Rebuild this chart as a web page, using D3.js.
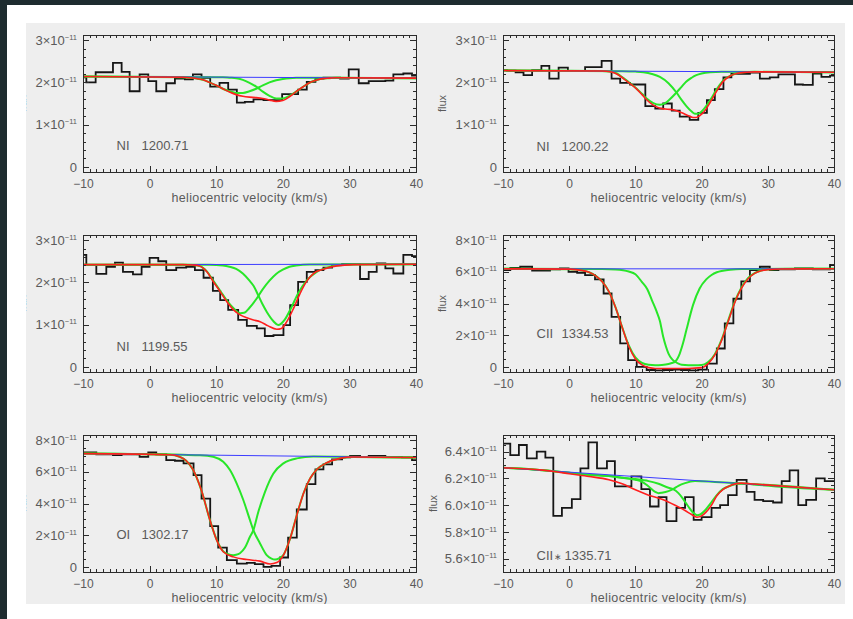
<!DOCTYPE html>
<html>
<head>
<meta charset="utf-8">
<script src="https://cdn.jsdelivr.net/npm/d3@7"></script>
<style>
  html, body { margin: 0; padding: 0; background: #ffffff; }
  svg { display: block; }
</style>
</head>
<body>
<svg id="chart" width="853" height="619"></svg>
<script>
// ---------------------------------------------------------------------------
// Interstellar absorption lines: observed flux (histogram), continuum (blue),
// the two velocity components (green) and the combined fit (red).
// Velocities in km/s (heliocentric), flux in units of 1e-11.
// ---------------------------------------------------------------------------

const velocityTicks = [-10, 0, 10, 20, 30, 40];
const lineIons = ["NI", "NI", "NI", "CII", "OI", "CII\u2217"];
const lineWavelengths = ["1200.71", "1200.22", "1199.55", "1334.53", "1302.17", "1335.71"];
const fluxTicksN = [0, 1, 2, 3];
const fluxTicksC = [0, 2, 4, 6, 8];
const fluxTicksCstar = [5.6, 5.8, 6.0, 6.2, 6.4];

// NI 1200.71
const n120071Edges = [-10.5, -9.5, -8.1, -6.8, -5.5, -4.2, -3.0, -1.5, -0.2, 1.0, 2.5, 3.8, 5.3, 6.5, 7.8, 9.1, 10.5, 11.8, 13.1, 14.3, 15.6, 17.1, 18.6, 19.9, 21.1, 22.3, 23.6, 24.9, 26.1, 27.4, 28.6, 29.9, 31.4, 32.9, 34.1, 35.4, 36.6, 38.1, 39.4, 40.7];
const n120071Flux = [2.12, 2.00, 2.24, 2.24, 2.46, 2.25, 1.79, 2.19, 2.03, 1.79, 1.98, 2.09, 2.07, 2.19, 2.11, 1.90, 1.99, 1.83, 1.52, 1.54, 1.60, 1.58, 1.58, 1.72, 1.72, 1.83, 2.01, 2.09, 2.11, 2.11, 2.09, 2.31, 1.98, 2.03, 2.03, 2.04, 2.19, 2.21, 2.16];
const n120071Cont = [[-10, 2.14], [40, 2.10]];
const n120071Comp1 = [[-10, 2.14], [5, 2.12], [6, 2.11], [7, 2.09], [8, 2.06], [9, 2.00], [10, 1.93], [11, 1.85], [12, 1.79], [13, 1.75], [14, 1.75], [15, 1.79], [16, 1.85], [17, 1.93], [18, 2.00], [19, 2.05], [20, 2.08], [21, 2.10], [22, 2.11], [24, 2.11], [40, 2.10]];
const n120071Comp2 = [[-10, 2.14], [10, 2.12], [11, 2.12], [12, 2.11], [13, 2.10], [14, 2.06], [15, 1.99], [16, 1.90], [17, 1.78], [18, 1.68], [19, 1.62], [20, 1.62], [21, 1.68], [22, 1.78], [23, 1.89], [24, 1.99], [25, 2.05], [26, 2.09], [27, 2.10], [28, 2.11], [40, 2.10]];
const n120071Total = [[-10, 2.14], [5, 2.12], [6, 2.11], [7, 2.09], [8, 2.06], [9, 2.00], [10, 1.93], [11, 1.85], [12, 1.77], [13, 1.71], [14, 1.67], [15, 1.65], [16, 1.64], [17, 1.62], [18, 1.58], [19, 1.55], [20, 1.57], [21, 1.66], [22, 1.78], [23, 1.89], [24, 1.99], [25, 2.05], [26, 2.09], [27, 2.10], [28, 2.11], [40, 2.10]];

// NI 1200.22
const n120022Edges = [-10.6, -9.4, -8.1, -6.9, -5.6, -4.2, -3.0, -1.6, -0.2, 1.2, 2.4, 3.7, 4.9, 6.4, 7.7, 9.2, 10.3, 11.5, 13.0, 14.2, 15.5, 16.7, 18.2, 19.5, 20.8, 22.0, 23.3, 24.5, 25.8, 27.3, 28.8, 30.3, 31.6, 32.8, 34.1, 35.3, 36.8, 38.1, 39.4, 40.6];
const n120022Flux = [2.29, 2.28, 2.24, 2.17, 2.29, 2.39, 2.09, 2.35, 2.27, 2.27, 2.36, 2.36, 2.51, 2.09, 1.99, 1.95, 1.95, 1.44, 1.38, 1.50, 1.33, 1.19, 1.11, 1.28, 1.58, 1.84, 2.12, 2.20, 2.20, 2.23, 2.09, 2.12, 2.19, 2.19, 1.95, 1.94, 2.21, 2.13, 2.16];
const n120022Cont = [[-10, 2.28], [40, 2.24]];
const n120022Comp1 = [[-10, 2.28], [5, 2.27], [6.2, 2.255], [7.2, 2.21], [8.2, 2.10], [9.2, 1.98], [10.2, 1.85], [11, 1.73], [11.7, 1.62], [12.7, 1.51], [13.7, 1.47], [14.5, 1.51], [15.2, 1.60], [16.2, 1.76], [17, 1.90], [17.7, 2.02], [18.5, 2.11], [19.2, 2.17], [20, 2.21], [21.3, 2.24], [23, 2.25], [40, 2.24]];
const n120022Comp2 = [[-10, 2.28], [8, 2.265], [10, 2.255], [11.2, 2.24], [12.5, 2.20], [13.7, 2.13], [15, 1.98], [16.2, 1.76], [17, 1.58], [17.7, 1.44], [18.5, 1.31], [19, 1.26], [19.5, 1.26], [20, 1.31], [21.3, 1.58], [22.3, 1.84], [23.3, 2.05], [24.5, 2.17], [26.3, 2.24], [28, 2.25], [40, 2.24]];
const n120022Total = [[-10, 2.28], [5, 2.27], [6.2, 2.25], [7.2, 2.20], [8.2, 2.09], [9.2, 1.97], [10.2, 1.84], [11, 1.71], [11.7, 1.59], [12.7, 1.46], [13.7, 1.39], [14.5, 1.37], [15.2, 1.36], [16.2, 1.33], [17.2, 1.27], [18, 1.21], [18.7, 1.17], [19.2, 1.17], [19.7, 1.21], [20.5, 1.33], [21.3, 1.53], [22.3, 1.80], [23.3, 2.03], [24.3, 2.15], [25.3, 2.21], [26.8, 2.24], [28, 2.25], [40, 2.24]];

// NI 1199.55
const n119955Edges = [-10.8, -9.5, -8.0, -6.5, -5.2, -4.0, -2.5, -1.2, 0.0, 1.3, 2.5, 4.0, 5.5, 6.8, 8.1, 9.5, 10.6, 11.8, 13.3, 14.6, 16.1, 17.3, 18.6, 20.1, 21.1, 22.3, 23.6, 24.9, 26.1, 27.4, 28.9, 30.1, 31.6, 32.9, 34.1, 35.4, 36.6, 38.1, 39.4, 40.7];
const n119955Flux = [2.65, 2.41, 2.20, 2.37, 2.47, 2.25, 2.19, 2.37, 2.58, 2.50, 2.29, 2.35, 2.37, 2.29, 2.11, 1.80, 1.58, 1.35, 1.11, 0.97, 0.91, 0.73, 0.75, 0.99, 1.46, 2.01, 2.25, 2.29, 2.35, 2.41, 2.43, 2.43, 2.08, 2.25, 2.45, 2.33, 2.21, 2.65, 2.62];
const n119955Cont = [[-10, 2.42], [40, 2.43]];
const n119955Comp1 = [[-10, 2.42], [5, 2.42], [6.5, 2.41], [7.5, 2.39], [8.6, 2.26], [9.6, 2.03], [10.6, 1.80], [11.6, 1.57], [12.6, 1.39], [13.6, 1.27], [14.2, 1.28], [15, 1.40], [16, 1.60], [17, 1.84], [18, 2.04], [19, 2.20], [20, 2.30], [21, 2.37], [22, 2.40], [24, 2.425], [40, 2.43]];
const n119955Comp2 = [[-10, 2.42], [9, 2.42], [11, 2.40], [12, 2.37], [13, 2.32], [14, 2.21], [15, 2.04], [15.6, 1.92], [16.3, 1.70], [17, 1.47], [17.6, 1.30], [18.6, 1.08], [19.3, 0.99], [20.3, 1.12], [21.3, 1.41], [22.3, 1.74], [23.6, 2.05], [25.1, 2.25], [27.1, 2.37], [29.6, 2.42], [31, 2.43], [40, 2.43]];
const n119955Total = [[-10, 2.42], [5, 2.42], [6.5, 2.41], [7.5, 2.39], [8.6, 2.25], [9.6, 2.01], [10.6, 1.78], [11.6, 1.54], [12.6, 1.35], [13.6, 1.23], [14.6, 1.16], [15.6, 1.11], [16.6, 1.07], [17.8, 0.97], [19.1, 0.89], [19.8, 0.91], [20.6, 1.07], [21.6, 1.38], [22.6, 1.74], [23.6, 2.03], [24.6, 2.21], [26.1, 2.31], [28.1, 2.39], [30.6, 2.42], [40, 2.43]];

// CII 1334.53
const c133453Edges = [-10.2, -8.9, -7.4, -5.6, -4.2, -2.9, -1.4, -0.1, 1.2, 2.4, 3.9, 5.2, 6.4, 7.7, 8.9, 10.2, 11.7, 13.0, 14.3, 15.6, 16.9, 18.2, 19.5, 20.8, 22.3, 23.5, 24.8, 26.0, 27.3, 28.8, 30.3, 31.6, 32.8, 34.1, 35.3, 36.8, 38.1, 39.4, 40.6];
const c133453Flux = [6.11, 6.25, 6.32, 6.07, 6.07, 6.15, 6.21, 6.00, 5.94, 5.79, 5.52, 4.63, 3.16, 1.48, 0.42, 0.00, -0.20, -0.22, -0.20, -0.18, -0.20, -0.22, -0.18, 0.21, 1.16, 2.74, 4.30, 5.40, 6.11, 6.32, 6.11, 6.15, 6.15, 6.21, 6.21, 6.15, 6.15, 6.43];
const c133453Cont = [[-10, 6.19], [40, 6.19]];
const c133453Comp1 = [[-10, 6.19], [0, 6.17], [1, 6.14], [2, 6.08], [3, 5.97], [4, 5.75], [5, 5.38], [6, 4.75], [7, 3.75], [8, 2.5], [9, 1.35], [10, 0.6], [11, 0.25], [12, 0.13], [13, 0.1], [14, 0.12], [15, 0.18], [15.5, 0.24], [16, 0.33], [16.7, 0.84], [17.2, 1.5], [17.7, 2.32], [18.7, 3.9], [19.7, 4.95], [20.7, 5.52], [21.5, 5.8], [22.3, 5.97], [24.3, 6.13], [26, 6.18], [40, 6.19]];
const c133453Comp2 = [[-10, 6.19], [5, 6.18], [7, 6.15], [9, 6.02], [10, 5.85], [11, 5.35], [11.8, 4.9], [12.5, 4.2], [13.2, 3.5], [13.7, 2.9], [14.2, 1.9], [14.6, 1.3], [15, 0.84], [15.5, 0.5], [16, 0.32], [16.5, 0.2], [17, 0.13], [18, 0.1], [19, 0.1], [20, 0.12], [20.5, 0.17], [21, 0.3], [22, 0.8], [23, 1.7], [24, 2.9], [25, 4.1], [26, 5.0], [27, 5.6], [28, 5.92], [29, 6.08], [30, 6.15], [32, 6.18], [40, 6.19]];
const c133453Total = [[-10, 6.19], [0, 6.17], [1, 6.14], [2, 6.08], [3, 5.97], [4, 5.75], [5, 5.38], [6, 4.75], [7, 3.75], [8, 2.5], [9, 1.3], [10, 0.5], [11, 0.12], [12, -0.05], [13, -0.1], [18, -0.1], [20, -0.05], [21, 0.2], [22, 0.75], [23, 1.65], [24, 2.85], [25, 4.05], [26, 4.95], [27, 5.55], [28, 5.9], [29, 6.07], [30, 6.14], [32, 6.18], [40, 6.19]];

// OI 1302.17
const o130217Edges = [-10.8, -9.5, -8.0, -6.7, -5.5, -4.2, -2.8, -1.5, -0.2, 1.0, 2.5, 3.8, 5.1, 6.6, 7.8, 9.1, 10.3, 11.6, 13.1, 14.6, 15.8, 17.1, 18.3, 19.6, 20.8, 22.1, 23.6, 24.9, 26.1, 27.4, 28.9, 30.1, 31.6, 32.9, 34.1, 35.4, 36.6, 37.9, 39.4, 40.7];
const o130217Flux = [7.22, 7.22, 7.10, 7.10, 7.06, 7.10, 7.10, 6.95, 7.22, 7.10, 6.74, 6.70, 6.53, 5.79, 4.31, 2.57, 1.22, 0.42, 0.21, 0.25, 0.17, 0.00, 0.06, 0.59, 1.85, 3.62, 5.22, 6.15, 6.47, 6.78, 6.91, 7.01, 6.95, 7.01, 7.01, 6.95, 6.95, 6.91, 6.74];
const o130217Cont = [[-10, 7.15], [40, 6.90]];
const o130217Comp1 = [[-10, 7.15], [3, 7.08], [4.5, 6.95], [5.5, 6.70], [6.5, 6.15], [7.8, 4.8], [9.06, 2.95], [10.06, 1.72], [11.06, 0.98], [11.8, 0.8], [12.57, 0.74], [13.0, 0.76], [13.57, 0.86], [14.3, 1.2], [15.07, 1.9], [15.58, 2.32], [16.33, 3.48], [17.33, 4.74], [18.59, 5.9], [20.09, 6.53], [22.1, 6.85], [24.6, 6.96], [40, 6.90]];
const o130217Comp2 = [[-10, 7.15], [5, 7.075], [7.55, 7.05], [9.56, 6.95], [11.06, 6.63], [12.07, 6.11], [13.07, 5.27], [14.07, 4.22], [15.07, 2.95], [15.58, 2.32], [16.58, 1.48], [17.58, 0.74], [18.3, 0.52], [18.84, 0.46], [19.5, 0.55], [20.1, 0.76], [21.1, 1.79], [22.1, 3.26], [23.1, 4.63], [24.1, 5.58], [25.1, 6.15], [26.6, 6.57], [28.6, 6.85], [30.6, 6.94], [40, 6.90]];
const o130217Total = [[-10, 7.15], [3, 7.08], [4.5, 6.95], [5.5, 6.70], [6.5, 6.15], [7.8, 4.8], [9.06, 2.95], [10.06, 1.7], [11.06, 0.95], [12.57, 0.63], [14.6, 0.46], [16.6, 0.36], [18.1, 0.18], [19.1, 0.27], [20.1, 0.74], [21.1, 1.79], [22.1, 3.26], [23.1, 4.63], [24.1, 5.58], [25.1, 6.15], [26.6, 6.57], [28.6, 6.85], [30.6, 6.94], [40, 6.90]];

// CII* 1335.71
const c133571Edges = [-10.2, -8.9, -7.6, -6.4, -4.9, -3.6, -2.4, -1.1, 0.4, 1.7, 2.9, 4.2, 5.7, 6.9, 8.2, 9.4, 10.9, 12.2, 13.5, 14.7, 16.2, 17.5, 18.8, 20.0, 21.5, 22.8, 24.0, 25.3, 26.8, 28.0, 29.3, 30.8, 32.1, 33.3, 34.6, 35.8, 37.3, 38.6, 39.9, 41.2];
const c133571Flux = [6.46, 6.375, 6.45, 6.35, 6.40, 6.355, 5.92, 5.98, 6.045, 6.275, 6.47, 6.275, 6.33, 6.14, 6.14, 6.215, 6.12, 5.99, 6.06, 5.88, 5.98, 6.06, 5.89, 5.91, 5.98, 6.00, 6.075, 6.19, 6.10, 6.04, 6.03, 6.02, 6.18, 6.26, 6.00, 6.04, 6.20, 6.18, 6.18];
const c133571Cont = [[-10, 6.28], [40, 6.115]];
const c133571Comp1 = [[-10, 6.28], [-4, 6.262], [-2, 6.252], [0, 6.242], [3, 6.228], [6, 6.218], [8, 6.205], [10, 6.19], [11, 6.175], [12, 6.14], [13, 6.10], [13.5, 6.09], [14, 6.093], [15, 6.105], [15.7, 6.12], [16.5, 6.145], [17.5, 6.165], [19, 6.18], [22, 6.174], [40, 6.115]];
const c133571Comp2 = [[-10, 6.28], [-4, 6.262], [-2, 6.252], [0, 6.242], [3, 6.228], [6, 6.218], [8, 6.205], [10, 6.195], [12, 6.18], [13.5, 6.16], [15, 6.13], [15.7, 6.12], [16.5, 6.09], [17.3, 6.04], [18, 5.99], [18.7, 5.945], [19.3, 5.925], [19.8, 5.93], [20.5, 5.96], [21.3, 6.01], [22.2, 6.07], [23.2, 6.12], [24.3, 6.145], [25.5, 6.16], [27, 6.16], [28, 6.155], [40, 6.115]];
const c133571Total = [[-10, 6.28], [-4, 6.262], [-2, 6.25], [0, 6.235], [3, 6.215], [6, 6.19], [8, 6.16], [10, 6.115], [12, 6.075], [14, 6.045], [16, 6.0], [17.5, 5.96], [18.5, 5.93], [19.3, 5.91], [20, 5.92], [20.7, 5.95], [21.5, 6.0], [22.3, 6.07], [23.3, 6.12], [24.5, 6.15], [26, 6.165], [28, 6.158], [40, 6.115]];

// ---------------------------------------------------------------------------
// Panel table (grid position, axis range and label placement per line)
// ---------------------------------------------------------------------------
const panels = [
  { ion: lineIons[0], wave: lineWavelengths[0], edges: n120071Edges, flux: n120071Flux, cont: n120071Cont, comps: [n120071Comp1, n120071Comp2], total: n120071Total,
    yTicks: fluxTicksN, yDomain: [-0.122, 3.122], minorStep: 0.2, digits: 0, col: 0, row: 0, labelDy: 110, nameGap: 25, fluxDx: 57 },
  { ion: lineIons[1], wave: lineWavelengths[1], edges: n120022Edges, flux: n120022Flux, cont: n120022Cont, comps: [n120022Comp1, n120022Comp2], total: n120022Total,
    yTicks: fluxTicksN, yDomain: [-0.122, 3.122], minorStep: 0.2, digits: 0, col: 1, row: 0, labelDy: 111, nameGap: 25, fluxDx: 57 },
  { ion: lineIons[2], wave: lineWavelengths[2], edges: n119955Edges, flux: n119955Flux, cont: n119955Cont, comps: [n119955Comp1, n119955Comp2], total: n119955Total,
    yTicks: fluxTicksN, yDomain: [-0.122, 3.122], minorStep: 0.2, digits: 0, col: 0, row: 1, labelDy: 111, nameGap: 25, fluxDx: 57 },
  { ion: lineIons[3], wave: lineWavelengths[3], edges: c133453Edges, flux: c133453Flux, cont: c133453Cont, comps: [c133453Comp1, c133453Comp2], total: c133453Total,
    yTicks: fluxTicksC, yDomain: [-0.325, 8.325], minorStep: 0.5, digits: 0, col: 1, row: 1, labelDy: 98, nameGap: 25, fluxDx: 57 },
  { ion: lineIons[4], wave: lineWavelengths[4], edges: o130217Edges, flux: o130217Flux, cont: o130217Cont, comps: [o130217Comp1, o130217Comp2], total: o130217Total,
    yTicks: fluxTicksC, yDomain: [-0.325, 8.325], minorStep: 0.5, digits: 0, col: 0, row: 2, labelDy: 99, nameGap: 25, fluxDx: 57 },
  { ion: lineIons[5], wave: lineWavelengths[5], edges: c133571Edges, flux: c133571Flux, cont: c133571Cont, comps: [c133571Comp1, c133571Comp2], total: c133571Total,
    yTicks: fluxTicksCstar, yDomain: [5.5, 6.525], minorStep: 0.05, digits: 1, col: 1, row: 2, labelDy: 120, nameGap: 28, fluxDx: 66 }
];

const W = 853, H = 619;
const colLeft = [83, 503], colRight = [416, 834];
const rowTop = [35, 235, 435], frameH = 137;
const FONT = "'Liberation Sans', Arial, sans-serif";
const TEXT = "#5a5a5a", AXIS = "#2b2b2b";

const svg = d3.select("#chart");
const defs = svg.append("defs");

// page: dark window edge, white page, grey plot sheet
svg.append("rect").attr("width", W).attr("height", H).attr("fill", "#ffffff");
svg.append("rect").attr("x", 0).attr("y", 0).attr("width", W).attr("height", 5).attr("fill", "#1e2c2f");
svg.append("rect").attr("x", 0).attr("y", 0).attr("width", 7).attr("height", H).attr("fill", "#1e2c2f");

const sheet = { x: 26, y: 23, w: 819, h: 581 };
svg.append("rect").attr("x", sheet.x).attr("y", sheet.y).attr("width", sheet.w).attr("height", sheet.h).attr("fill", "#eeeeee");
defs.append("clipPath").attr("id", "sheetClip").append("rect")
  .attr("x", sheet.x).attr("y", sheet.y).attr("width", sheet.w).attr("height", sheet.h);
const root = svg.append("g").attr("clip-path", "url(#sheetClip)");

const fmtVel = d3.format("d");

function minorValues(domain, step, majors) {
  const k0 = Math.ceil(domain[0] / step - 1e-9), k1 = Math.floor(domain[1] / step + 1e-9);
  return d3.range(k0, k1 + 1).map(k => +(k * step).toFixed(4))
    .filter(v => v > domain[0] && v < domain[1] && !majors.some(m => Math.abs(m - v) < 1e-6));
}

function styleAxis(g) {
  g.select(".domain").remove();
  g.attr("color", AXIS).attr("font-family", FONT);
  g.selectAll(".tick line").attr("stroke-width", 1).attr("shape-rendering", "crispEdges");
}

panels.forEach((p, i) => {
  const x0 = colLeft[p.col], x1 = colRight[p.col];
  const y0 = rowTop[p.row], y1 = y0 + frameH;
  const x = d3.scaleLinear().domain([-10, 40]).range([x0, x1]);
  const y = d3.scaleLinear().domain(p.yDomain).range([y1, y0]);

  const pg = root.append("g");

  // data layer clipped to the frame
  const cid = "frameClip" + i;
  defs.append("clipPath").attr("id", cid).append("rect")
    .attr("x", x0).attr("y", y0).attr("width", x1 - x0).attr("height", y1 - y0);
  const dg = pg.append("g").attr("clip-path", `url(#${cid})`);

  const stepPts = p.flux.map((f, k) => [p.edges[k], f]);
  stepPts.push([p.edges[p.flux.length], p.flux[p.flux.length - 1]]);
  const stepLine = d3.line().x(d => x(d[0])).y(d => y(d[1])).curve(d3.curveStepAfter);
  const fitLine = d3.line().x(d => x(d[0])).y(d => y(d[1])).curve(d3.curveMonotoneX);

  dg.append("path").attr("d", stepLine(stepPts))
    .attr("fill", "none").attr("stroke", "#161616").attr("stroke-width", 1.8).attr("stroke-linejoin", "miter");
  p.comps.forEach(c => {
    dg.append("path").attr("d", fitLine(c))
      .attr("fill", "none").attr("stroke", "#28e628").attr("stroke-width", 2);
  });
  dg.append("path").attr("d", fitLine(p.cont))
    .attr("fill", "none").attr("stroke", "#3c3cff").attr("stroke-width", 1);
  dg.append("path").attr("d", fitLine(p.total))
    .attr("fill", "none").attr("stroke", "#ff1e1e").attr("stroke-width", 1.6);

  // axes: inward ticks on all four sides
  const xMinor = minorValues([-10, 40], 1, velocityTicks);
  const yMinor = minorValues(p.yDomain, p.minorStep, p.yTicks);

  pg.append("g").attr("transform", `translate(0,${y1})`)
    .call(d3.axisBottom(x).tickValues(velocityTicks).tickSizeInner(-6).tickSizeOuter(0).tickPadding(7.5).tickFormat(fmtVel))
    .call(styleAxis)
    .call(g => g.selectAll(".tick text").attr("fill", TEXT).attr("font-size", 12));
  pg.append("g").attr("transform", `translate(0,${y1})`)
    .call(d3.axisBottom(x).tickValues(xMinor).tickSizeInner(-3).tickSizeOuter(0).tickFormat(""))
    .call(styleAxis);
  pg.append("g").attr("transform", `translate(0,${y0})`)
    .call(d3.axisTop(x).tickValues(velocityTicks).tickSizeInner(-6).tickSizeOuter(0).tickFormat(""))
    .call(styleAxis);
  pg.append("g").attr("transform", `translate(0,${y0})`)
    .call(d3.axisTop(x).tickValues(xMinor).tickSizeInner(-3).tickSizeOuter(0).tickFormat(""))
    .call(styleAxis);

  pg.append("g").attr("transform", `translate(${x0},0)`)
    .call(d3.axisLeft(y).tickValues(p.yTicks).tickSizeInner(-6).tickSizeOuter(0).tickPadding(6).tickFormat(""))
    .call(styleAxis)
    .call(g => g.selectAll(".tick text").each(function (d) {
      const t = d3.select(this).attr("fill", TEXT).attr("font-size", 13);
      if (d === 0) { t.text("0"); return; }
      t.append("tspan").text(d.toFixed(p.digits) + "\u00d710");
      t.append("tspan").attr("dy", -5).attr("font-size", 7.5).text("\u221211");
    }));
  pg.append("g").attr("transform", `translate(${x0},0)`)
    .call(d3.axisLeft(y).tickValues(yMinor).tickSizeInner(-3).tickSizeOuter(0).tickFormat(""))
    .call(styleAxis);
  pg.append("g").attr("transform", `translate(${x1},0)`)
    .call(d3.axisRight(y).tickValues(p.yTicks).tickSizeInner(-6).tickSizeOuter(0).tickFormat(""))
    .call(styleAxis);
  pg.append("g").attr("transform", `translate(${x1},0)`)
    .call(d3.axisRight(y).tickValues(yMinor).tickSizeInner(-3).tickSizeOuter(0).tickFormat(""))
    .call(styleAxis);

  // frame box
  pg.append("rect").attr("x", x0).attr("y", y0).attr("width", x1 - x0).attr("height", y1 - y0)
    .attr("fill", "none").attr("stroke", AXIS).attr("stroke-width", 1).attr("shape-rendering", "crispEdges");

  // axis titles
  pg.append("text").attr("x", (x0 + x1) / 2).attr("y", y1 + 30)
    .attr("text-anchor", "middle").attr("font-family", FONT).attr("font-size", 12.5).attr("fill", TEXT)
    .attr("textLength", 156).attr("lengthAdjust", "spacing")
    .text("heliocentric velocity (km/s)");
  pg.append("text")
    .attr("transform", `translate(${x0 - p.fluxDx},${(y0 + y1) / 2}) rotate(-90)`)
    .attr("text-anchor", "middle").attr("font-family", FONT).attr("font-size", 11).attr("fill", TEXT)
    .text("flux");

  // line identification; an excited-state star is set small and centred
  const ly = y0 + p.labelDy + 4.5;
  const nameText = pg.append("text").attr("x", x0 + 33.5).attr("y", ly)
    .attr("font-family", FONT).attr("font-size", 13).attr("fill", TEXT);
  const star = "\u2217";
  if (p.ion.endsWith(star)) {
    nameText.append("tspan").text(p.ion.slice(0, -1));
    nameText.append("tspan").attr("font-size", 9).attr("dx", 0.5).text(star);
  } else {
    nameText.text(p.ion);
  }
  pg.append("text").attr("x", x0 + 33.5 + p.nameGap).attr("y", ly)
    .attr("font-family", FONT).attr("font-size", 13).attr("fill", TEXT).text(p.wave);
});
</script>
</body>
</html>
